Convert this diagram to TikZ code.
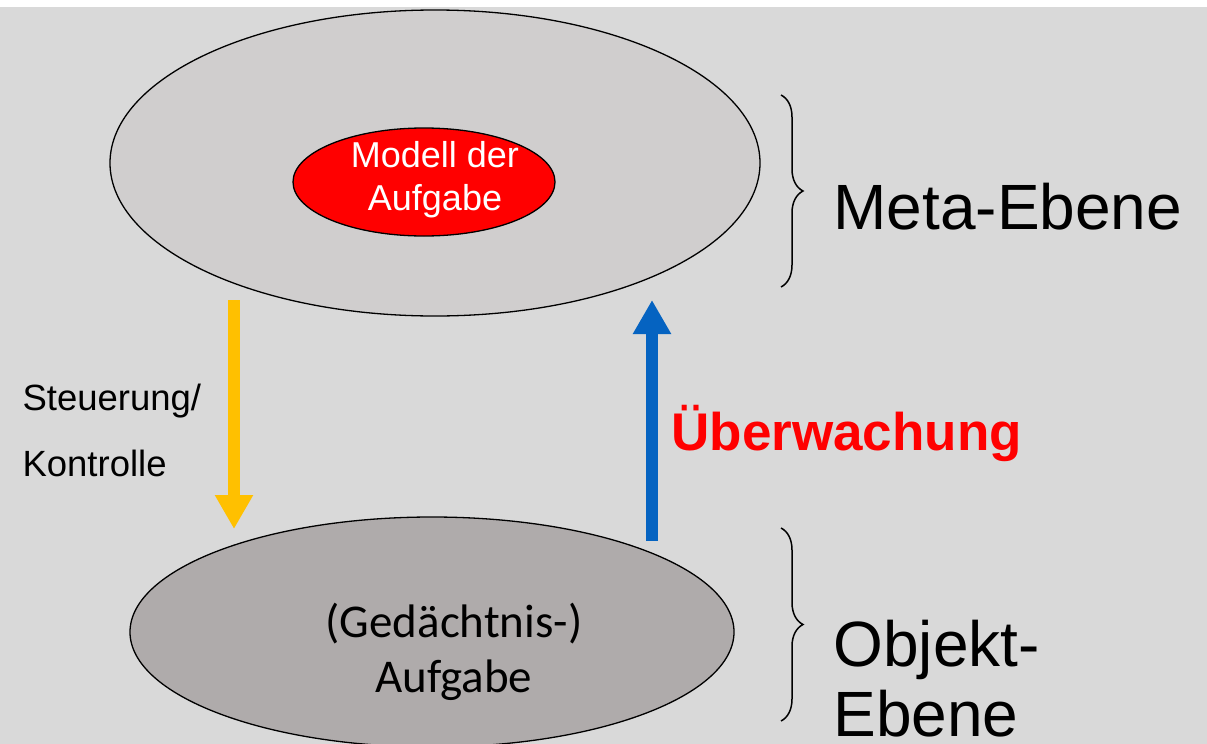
\documentclass[tikz,border=0pt]{standalone}
\usepackage{fontspec}
\setmainfont{Liberation Sans}
\newfontfamily\calibrifont{Carlito}
\usetikzlibrary{shapes.geometric,arrows.meta,decorations.pathreplacing}

\definecolor{hintergrund}{HTML}{D9D9D9}
\definecolor{metagrau}{HTML}{D0CECE}
\definecolor{objektgrau}{HTML}{AFABAB}
\definecolor{steuergelb}{HTML}{FFC000}
\definecolor{ueberblau}{HTML}{0563C1}
\definecolor{signalrot}{HTML}{FF0000}

\tikzset{
  ebene/.style={ellipse, draw=black, line width=1.3pt, inner sep=0pt},
  pfeil/.style={line width=12pt, -{Triangle[width=36pt,length=34pt]}},
  klammer/.style={draw=black, line width=1.5pt, decorate,
    decoration={brace, amplitude=22pt}},
  titel/.style={font=\fontsize{64}{70}\selectfont, align=left, anchor=west}
}

\begin{document}
\begin{tikzpicture}[x=1pt, y=-1pt]
            \useasboundingbox (0,0) rectangle (1207,744);
            \fill[hintergrund] (0,7) rectangle (1207,744);

            % Meta-Ebene mit Modell
            \node[ebene, fill=metagrau, minimum width=650pt, minimum height=306pt] (meta) at (435,163) {};
            \node[ebene, fill=signalrot, minimum width=262pt, minimum height=108pt] (modell) at (424,182) {};
            \node[text=white, align=center, font=\fontsize{36}{43}\selectfont] (modelltext) at (435,180) {Modell der\\Aufgabe};

            % Objekt-Ebene
            \node[ebene, fill=objektgrau, minimum width=604pt, minimum height=230pt] (objekt) at (432,632) {};
            \node[align=center, font=\calibrifont\fontsize{47}{55}\selectfont] (objekttext) at (454,652) {(Gedächtnis-)\\Aufgabe};

            % Pfeile zwischen den Ebenen
            \coordinate (steuerA) at (234,300);
            \coordinate (steuerB) at (234,529);
            \coordinate (ueberA) at (652,541);
            \coordinate (ueberB) at (652,300);
            \draw[pfeil, steuergelb] (steuerA) -- (steuerB);
            \draw[pfeil, ueberblau] (ueberA) -- (ueberB);

            \node[align=left, anchor=west, font=\fontsize{36.5}{66}\selectfont] (steuerung) at (19,430) {Steuerung/\\Kontrolle};
            \node[anchor=west, text=signalrot, font=\bfseries\fontsize{53}{60}\selectfont] (ueberwachung) at (668,433) {Überwachung};

            % Klammern und Ebenennamen
            \coordinate (klammerMa) at (781,95);
            \coordinate (klammerMb) at (781,287);
            \coordinate (klammerOa) at (781,528);
            \coordinate (klammerOb) at (781,721);
            \draw[klammer] (klammerMa) -- (klammerMb);
            \draw[klammer] (klammerOa) -- (klammerOb);

            \node[titel] (metaname) at (830,207) {Meta-Ebene};
            \node[titel] (objektname) at (830,679) {Objekt-\\Ebene};
        \end{tikzpicture}
\end{document}
